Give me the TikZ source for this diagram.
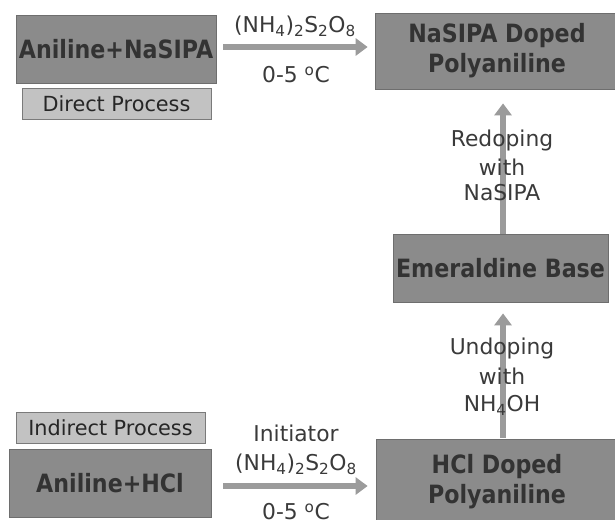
\documentclass[tikz,border=0pt]{standalone}
\usepackage{fontspec}
\setmainfont{DejaVu Sans}[BoldFeatures={FakeStretch=0.88}]
\usetikzlibrary{arrows.meta,calc}
\definecolor{boxfill}{HTML}{8B8B8B}
\definecolor{boxdraw}{HTML}{6E6E6E}
\definecolor{boxtext}{HTML}{333333}
\definecolor{lightfill}{HTML}{C2C2C2}
\definecolor{lightdraw}{HTML}{7A7A7A}
\definecolor{arrowgray}{HTML}{9B9B9B}
\definecolor{labeltext}{HTML}{3A3A3A}
\begin{document}
\begin{tikzpicture}[x=1pt,y=-1pt,
  darkbox/.style={draw=boxdraw,line width=0.8pt,fill=boxfill,inner sep=0pt,
    text=boxtext,font=\fontsize{25.2}{30}\selectfont\bfseries,align=center},
  lightbox/.style={draw=lightdraw,line width=0.8pt,fill=lightfill,inner sep=0pt,
    text=black!85,font=\fontsize{20.8}{24}\selectfont},
  lbl/.style={text=labeltext,font=\fontsize{21.8}{24}\selectfont,inner sep=0pt},
  arr/.style={draw=arrowgray,line width=6pt,-{Triangle[length=12pt,width=17pt]}}]
\useasboundingbox (0,0) rectangle (615,519);
\fill[white] (0,0) rectangle (615,519);
% boxes
\node[darkbox,minimum width=200pt,minimum height=68pt] (A1) at (116,49) {Aniline+NaSIPA};
\node[lightbox,minimum width=189pt,minimum height=31pt] (D) at (116.5,103.5) {Direct Process};
\node[darkbox,minimum width=244pt,minimum height=76pt] (N) at (497,51) {NaSIPA Doped\\Polyaniline};
\node[darkbox,minimum width=215pt,minimum height=68pt] (E) at (500.5,268) {Emeraldine Base};
\node[lightbox,minimum width=189pt,minimum height=31pt] (I) at (110.5,427.5) {Indirect Process};
\node[darkbox,minimum width=202pt,minimum height=68pt] (AH) at (110,483) {Aniline+HCl};
\node[darkbox,minimum width=242pt,minimum height=86pt] (H) at (497,482) {HCl Doped\\Polyaniline};
% arrows
\coordinate (t1) at ($(A1.east)+(7,-2)$);
\coordinate (t2) at ($(t1 -| N.west)+(-7,0)$);
\draw[arr] (t1) -- (t2);
\coordinate (b1) at ($(AH.east)+(12,3)$);
\coordinate (b2) at ($(b1 -| H.west)+(-8,0)$);
\draw[arr] (b1) -- (b2);
\coordinate (v1) at ($(E.north)+(2.5,0)$);
\coordinate (v2) at ($(v1 |- N.south)+(0,14)$);
\draw[arr] (v1) -- (v2);
\coordinate (w1) at ($(H.north)+(6,-1)$);
\coordinate (w2) at ($(w1 |- E.south)+(0,11)$);
\draw[arr] (w1) -- (w2);
% labels
\node[lbl] (l1) at (295,26) {(NH\textsubscript{4})\textsubscript{2}S\textsubscript{2}O\textsubscript{8}};
\node[lbl] (l2) at (296,75) {0-5 \textsuperscript{o}C};
\node[lbl] (r1) at (502,140) {Redoping};
\node[lbl] (r2) at (502,167) {with};
\node[lbl] (r3) at (502,193) {NaSIPA};
\node[lbl] (u1) at (502,348) {Undoping};
\node[lbl] (u2) at (502,376) {with};
\node[lbl] (u3) at (502,405) {NH\textsubscript{4}OH};
\node[lbl] (i1) at (296,433) {Initiator};
\node[lbl] (i2) at (296,464) {(NH\textsubscript{4})\textsubscript{2}S\textsubscript{2}O\textsubscript{8}};
\node[lbl] (i3) at (296,512) {0-5 \textsuperscript{o}C};
\end{tikzpicture}
\end{document}
